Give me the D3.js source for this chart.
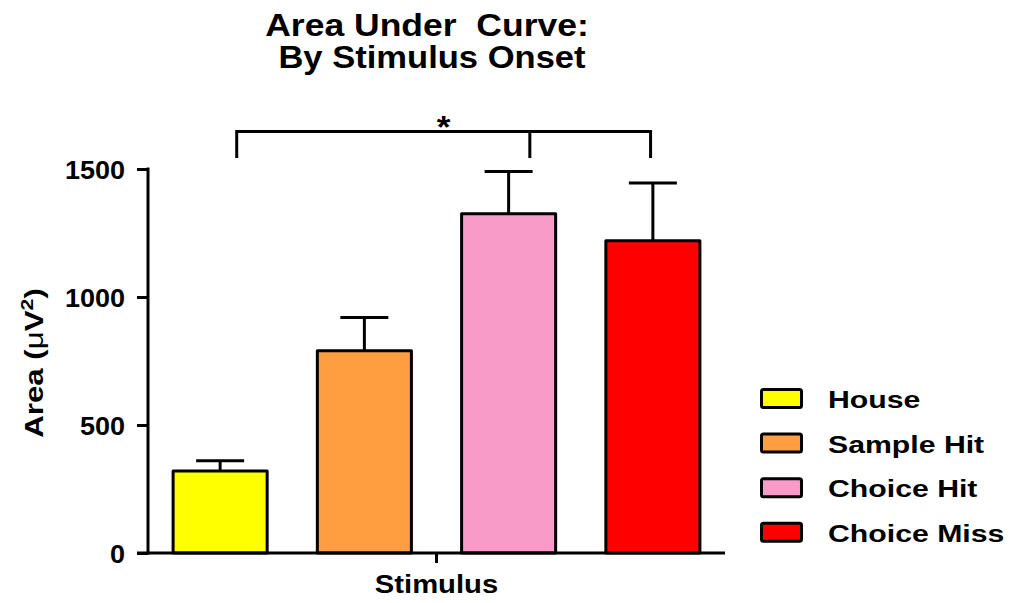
<!DOCTYPE html>
<html>
<head>
<meta charset="utf-8">
<script src="https://cdn.jsdelivr.net/npm/d3@7"></script>
<style>
  html, body { margin: 0; padding: 0; background: #fff; }
  svg { display: block; font-family: "Liberation Sans", Arial, sans-serif; font-weight: bold; }
</style>
</head>
<body>
<svg id="chart" width="1012" height="603"></svg>
<script>
// Mean area under curve per stimulus type, with upper SEM bars
const categories = ["House", "Sample Hit", "Choice Hit", "Choice Miss"];
const means = [320, 790, 1325, 1220];
const errorTops = [360, 920, 1490, 1445];
const colors = ["#FFFF00", "#FF9E40", "#F89BC9", "#FF0000"];
const yTicks = [0, 500, 1000, 1500];

// Significance bracket: leg positions in category units, heights in value units
const bracketLegs = [0.615, 2.647, 3.484];
const bracketLevel = 1646;
const bracketFoot = 1543;
const bracketLabel = "*";

const svg = d3.select("#chart");

// Text that is set a little wider than the base face
function wideText(parent, x, y, size, sx, anchor, rotate) {
  return parent.append("text")
    .attr("transform", `translate(${x},${y})${rotate ? ` rotate(${rotate})` : ""} scale(${sx},1)`)
    .attr("text-anchor", anchor || "start")
    .attr("font-size", size)
    .attr("fill", "#000");
}

const x = d3.scaleBand()
  .domain(categories)
  .range([148, 725])
  .paddingInner(0.348)
  .paddingOuter(0.174);

const xPos = d3.scaleLinear().domain([0, categories.length]).range([148, 725]);

const y = d3.scaleLinear().domain([0, 1500]).range([553, 169]);

// Title
wideText(svg, 427, 36, 32, 1.11, "middle").attr("xml:space", "preserve").text("Area Under\u00A0 Curve:");
wideText(svg, 432, 68, 32, 1.08, "middle").text("By Stimulus Onset");

// Error bars (upper only)
const errG = svg.append("g").attr("stroke", "#000").attr("stroke-width", 3);
categories.forEach((c, i) => {
  const cx = x(c) + x.bandwidth() / 2;
  errG.append("line")
    .attr("x1", cx).attr("x2", cx)
    .attr("y1", y(means[i])).attr("y2", y(errorTops[i]));
  errG.append("line")
    .attr("x1", cx - 24).attr("x2", cx + 24)
    .attr("y1", y(errorTops[i])).attr("y2", y(errorTops[i]));
});

// Bars
svg.append("g").selectAll("rect")
  .data(categories)
  .join("rect")
  .attr("x", d => x(d))
  .attr("width", x.bandwidth())
  .attr("y", (d, i) => y(means[i]))
  .attr("height", (d, i) => y(0) - y(means[i]))
  .attr("fill", (d, i) => colors[i])
  .attr("stroke", "#000")
  .attr("stroke-width", 3)
  .attr("stroke-linejoin", "round");

// Y axis
const yAxis = svg.append("g")
  .attr("transform", "translate(148,0)")
  .call(d3.axisLeft(y).tickValues(yTicks).tickFormat(d3.format("d")).tickSize(11).tickPadding(11).tickSizeOuter(0));
yAxis.select(".domain").attr("stroke-width", 3).attr("d", `M0,${y(1500) - 1.5}V${y(0) + 1.5}`);
yAxis.selectAll(".tick line").attr("stroke-width", 3);
yAxis.selectAll(".tick text")
  .attr("x", 0)
  .attr("transform", "translate(-23,0) scale(1.08,1)")
  .attr("font-size", 25).attr("font-weight", "bold")
  .attr("font-family", "Liberation Sans, Arial, sans-serif")
  .attr("fill", "#000").attr("dy", "0.36em");

// X axis: single centre tick
const xAxisG = svg.append("g").attr("stroke", "#000").attr("stroke-width", 3);
xAxisG.append("line").attr("x1", 137).attr("x2", xPos(categories.length)).attr("y1", y(0)).attr("y2", y(0));
xAxisG.append("line")
  .attr("x1", xPos(categories.length / 2)).attr("x2", xPos(categories.length / 2))
  .attr("y1", y(0)).attr("y2", y(0) + 10);

wideText(svg, xPos(categories.length / 2), 593, 25, 1.17, "middle").text("Stimulus");

// Y axis title
const yTitle = wideText(svg, 43, (y(0) + y(1500)) / 2 + 2, 25, 1.25, "middle", -90);
yTitle.append("tspan").text("Area (");
yTitle.append("tspan").attr("font-weight", "normal").text("\u03BC");
yTitle.append("tspan").text("V");
yTitle.append("tspan").attr("font-size", 17).attr("dy", -10).text("2");
yTitle.append("tspan").attr("dy", 10).text(")");

// Significance bracket
const bracketG = svg.append("g").attr("fill", "none").attr("stroke", "#000").attr("stroke-width", 3);
const bx = bracketLegs.map(xPos);
bracketG.append("path")
  .attr("d", `M${bx[0]},${y(bracketFoot)}V${y(bracketLevel)}H${bx[2]}V${y(bracketFoot)}`);
bracketG.append("line")
  .attr("x1", bx[1]).attr("x2", bx[1])
  .attr("y1", y(bracketLevel)).attr("y2", y(bracketFoot));
wideText(svg, (bx[0] + bx[2]) / 2, 138, 32, 1.1, "middle").text(bracketLabel);

// Legend
const legend = svg.append("g");
categories.forEach((c, i) => {
  const row = legend.append("g").attr("transform", `translate(0,${i * 44.6})`);
  row.append("rect")
    .attr("x", 761.5).attr("y", 389.5).attr("width", 40).attr("height", 18)
    .attr("rx", 2)
    .attr("fill", colors[i]).attr("stroke", "#000").attr("stroke-width", 3);
  wideText(row, 828, 408, 24, 1.26, "start").text(c);
});
</script>
</body>
</html>
